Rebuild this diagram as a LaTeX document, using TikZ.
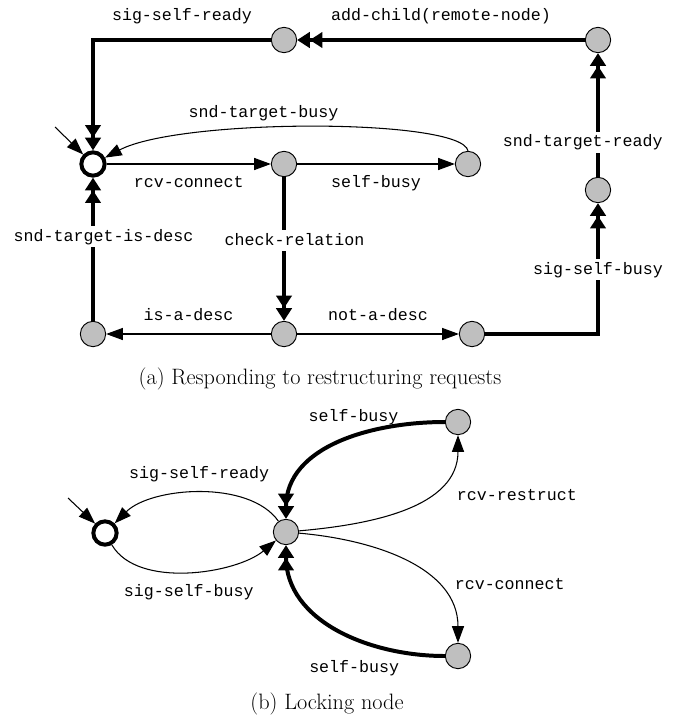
\documentclass[tikz,border=0pt]{standalone}
\usepackage{fontspec}
\setmonofont{Liberation Mono}
\usepackage{tikz}
\usetikzlibrary{arrows.meta, positioning}

\begin{document}
\begin{tikzpicture}[
  x=0.03cm, y=-0.03cm,
  state/.style={circle, draw=black, fill=gray!50, minimum size=0.76cm, inner sep=0pt, line width=0.8pt},
  home/.style={circle, draw=black, fill=white, line width=3.4pt, minimum size=0.7cm, inner sep=0pt},
  arr/.style={-{Triangle[length=0.5cm, width=0.36cm]}, line width=0.9pt},
  dblarr/.style={-{Triangle[length=0.38cm, width=0.46cm]Triangle[length=0.38cm, width=0.46cm]}, line width=3.4pt},
  lbl/.style={font=\fontsize{14.2}{17}\selectfont\ttfamily, fill=white, inner sep=2pt, text height=11pt, text depth=3pt},
  subcap/.style={font=\fontsize{19}{22}\selectfont}
]
  \useasboundingbox (0,0) rectangle (678,719);

  \node[home] (I) at (93,164) {};
  \node[state] (B) at (284,164) {};
  \node[state] (C) at (468,164) {};
  \node[state] (TL) at (284,40) {};
  \node[state] (TR) at (598,40) {};
  \node[state] (R) at (598,190) {};
  \node[state] (BL) at (93,334) {};
  \node[state] (BM) at (284,334) {};
  \node[state] (BR) at (472,334) {};
  \coordinate (s1) at (55,127);

  \draw[dblarr] (TR) -- node[lbl, above=10pt] {add-child(remote-node)} (TL);
  \draw[dblarr] (TL) -| node[lbl, pos=0.25, above=10pt] {sig-self-ready} (I);
  \draw[arr] (s1) -- (I);
  \draw[arr] (I) -- node[lbl, below=7pt] {rcv-connect} (B);
  \draw[arr] (B) -- node[lbl, below=7pt] {self-busy} (C);
  \draw[arr] (C.north) .. controls (462,118) and (180,118) .. node[lbl, pos=0.6, above=4pt] {snd-target-busy} (I);
  \draw[dblarr] (B) -- node[lbl, pos=0.44, xshift=9pt] {check-relation} (BM);
  \draw[arr] (BM) -- node[lbl, above=6pt] {is-a-desc} (BL);
  \draw[arr] (BM) -- node[lbl, above=6pt] {not-a-desc} (BR);
  \draw[dblarr] (BL) -- node[lbl, pos=0.59, xshift=9pt] {snd-target-is-desc} (I);
  \draw[dblarr] (BR) -| node[lbl, pos=0.745] {sig-self-busy} (R);
  \draw[dblarr] (R) -- node[lbl, pos=0.28, xshift=-13pt] {snd-target-ready} (TR);

  \node[subcap] (capa) at (320,379) {(a) Responding to restructuring requests};

  \node[home] (I2) at (105,533) {};
  \node[state] (M) at (286,532) {};
  \node[state] (U) at (458,422) {};
  \node[state] (D) at (458,656) {};
  \coordinate (s2) at (68,498);

  \draw[arr] (s2) -- (I2);
  \draw[arr] (M) to[out=125, in=45, looseness=0.8] node[lbl, above=7pt] {sig-self-ready} (I2);
  \draw[arr] (I2) to[out=-60, in=-140, looseness=0.8] node[lbl, below=8pt] {sig-self-busy} (M);
  \draw[arr] (M) to[out=5, in=-90] node[lbl, pos=0.62, anchor=west, xshift=24pt] {rcv-restruct} (U);
  \draw[dblarr] (U) to[out=180, in=90] node[lbl, fill=none, pos=0.42, above=6pt] {self-busy} (M);
  \draw[arr] (M) to[out=-5, in=90] node[lbl, pos=0.7, anchor=west, xshift=12pt, yshift=2pt] {rcv-connect} (D);
  \draw[dblarr] (D) to[out=180, in=-90] node[lbl, fill=none, pos=0.41, below=15pt] {self-busy} (M);

  \node[subcap] (capb) at (327,704) {(b) Locking node};
\end{tikzpicture}
\end{document}
